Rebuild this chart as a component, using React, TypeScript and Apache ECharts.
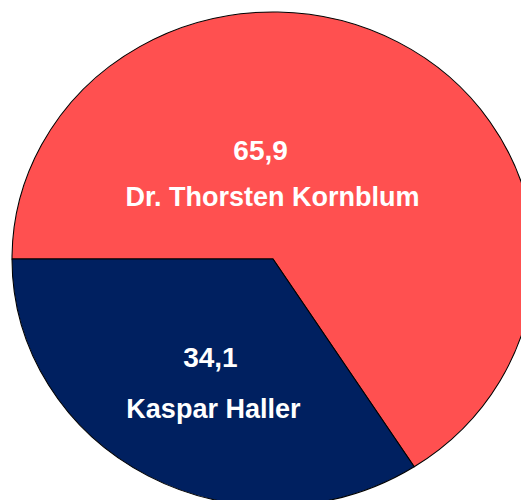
import React, { useEffect, useRef } from "react";
import * as echarts from "echarts";

const names = ["Dr. Thorsten Kornblum", "Kaspar Haller"];
const values = [65.9, 34.1];
const colors = ["#FF5050", "#002060"];
const labelOffsets = [
  [-61, 26],
  [1, 13],
];
const lineHeights = [47, 51.5];
const valuePad = [24, 6];

const CX = 273;
const CY = 259;
const RY = 247;
const RX = 261;

export default function App() {
  const ref = useRef<HTMLDivElement>(null);
  useEffect(() => {
    document.body.style.margin = "0";
    const chart = echarts.init(ref.current!, null, { renderer: "svg" });
    chart.setOption({
      animation: false,
      series: [
        {
          type: "pie",
          center: [CX, CY],
          radius: RY,
          startAngle: 180,
          clockwise: true,
          silent: true,
          itemStyle: { borderColor: "#000000", borderWidth: 1 },
          labelLine: { show: false },
          data: values.map((v, i) => ({
            value: v,
            name: names[i],
            itemStyle: { color: colors[i] },
            label: {
              show: true,
              position: "inside",
              offset: labelOffsets[i],
              formatter: () =>
                `{v|${v.toFixed(1).replace(".", ",")}}\n{n|${names[i]}}`,
              rich: {
                v: {
                  fontFamily: "Liberation Sans, Arial, sans-serif",
                  fontWeight: "bold",
                  fontSize: 28,
                  color: "#ffffff",
                  lineHeight: lineHeights[i],
                  padding: [0, valuePad[i], 0, 0],
                },
                n: {
                  fontFamily: "Liberation Sans, Arial, sans-serif",
                  fontWeight: "bold",
                  fontSize: 27,
                  color: "#ffffff",
                  lineHeight: lineHeights[i],
                },
              },
            },
          })),
        },
      ],
    });
    // stretch the pie horizontally into the ellipse of the original (text untouched)
    const stretch = () => {
      const s = RX / RY;
      const paths = ref.current?.querySelectorAll("svg path") || [];
      paths.forEach((p) => {
        const el = p as SVGPathElement;
        if (el.getAttribute("data-stretched")) return;
        const prev = el.getAttribute("transform") || "";
        el.setAttribute(
          "transform",
          `matrix(${s},0,0,1,${CX * (1 - s)},0) ${prev}`.trim()
        );
        el.setAttribute("data-stretched", "1");
      });
    };
    chart.getZr().flush();
    stretch();
    chart.on("finished", stretch);
    const t = setTimeout(stretch, 50);
    return () => {
      clearTimeout(t);
      chart.dispose();
    };
  }, []);
  return <div ref={ref} style={{ width: 521, height: 500 }} />;
}
